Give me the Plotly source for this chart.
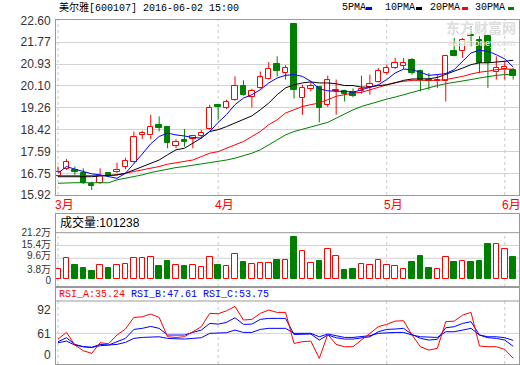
import plotly.graph_objects as go

# ---------------- data ----------------
opens  = [16.66,16.92,16.88,16.75,16.33,16.37,16.75,16.79,17.01,17.20,
          18.22,18.20,18.61,18.52,17.81,18.03,18.06,18.19,18.45,19.38,
          19.27,19.57,20.10,19.67,20.02,20.36,20.95,20.59,22.45,19.63,
          19.99,20.05,19.38,19.90,19.91,19.85,19.89,20.05,20.23,20.59,
          20.78,20.87,21.10,20.66,20.31,20.27,20.27,21.42,21.42,22.06,
          21.87,22.02,20.62,20.74,20.72]
closes = [16.79,17.20,16.79,16.37,16.27,16.66,16.65,16.88,17.23,18.13,
          18.31,18.54,18.48,17.90,17.94,17.94,18.19,18.31,19.27,19.29,
          19.48,20.10,19.76,19.91,20.42,20.74,20.65,20.78,19.95,20.02,
          20.08,19.27,20.31,19.95,19.80,19.72,19.98,20.18,20.66,20.78,
          20.97,20.97,20.59,20.31,20.27,20.34,21.26,21.26,21.87,22.00,
          20.97,20.97,20.78,20.82,20.46]
highs  = [17.01,17.30,17.01,16.94,16.43,16.94,16.78,17.16,17.35,18.35,
          18.38,18.99,18.93,18.54,18.06,18.45,18.22,18.42,19.38,19.40,
          19.57,20.46,20.31,19.99,20.65,21.01,21.23,20.89,22.45,20.14,
          20.27,20.08,20.49,20.34,19.95,20.00,20.49,20.53,20.78,20.91,
          21.17,21.17,21.17,20.72,20.59,20.53,21.29,21.93,21.93,22.38,
          22.00,22.06,21.23,21.04,20.78]
lows   = [16.62,16.88,16.69,16.34,16.11,16.34,16.62,16.75,16.91,17.16,
          18.06,18.06,18.35,17.71,17.71,17.77,17.71,18.12,18.42,18.80,
          19.21,19.53,19.72,19.27,19.99,20.34,20.46,20.34,19.61,18.99,
          19.89,18.70,19.29,18.99,19.50,19.66,19.80,19.76,20.21,20.53,
          20.74,20.74,20.53,19.89,19.95,20.02,19.50,21.23,21.17,21.61,
          20.59,20.02,20.34,20.34,20.34]

ma5  = [16.75,17.01,16.91,16.82,16.73,16.69,16.62,16.56,16.75,17.11,
        17.49,17.88,18.16,18.29,18.22,18.18,18.12,18.10,18.35,18.70,
        19.00,19.38,19.63,19.76,19.95,20.21,20.40,20.50,20.53,20.46,
        20.27,19.98,19.91,19.89,19.89,19.85,19.95,20.02,20.14,20.34,
        20.59,20.74,20.72,20.62,20.50,20.53,20.57,20.72,21.04,21.36,
        21.46,21.42,21.29,21.13,20.82]
ma10 = [16.62,16.62,16.62,16.62,16.62,16.65,16.66,16.69,16.75,16.88,
        17.01,17.14,17.26,17.46,17.65,17.71,17.90,18.10,18.35,18.42,
        18.54,18.67,18.80,18.95,19.18,19.44,19.76,20.02,20.14,20.21,
        20.25,20.21,20.21,20.18,20.11,20.11,20.05,20.05,20.11,20.14,
        20.21,20.31,20.36,20.37,20.37,20.42,20.53,20.66,20.78,20.91,
        20.98,20.98,21.00,21.04,21.08]
ma20 = [16.66,16.66,16.66,16.66,16.66,16.66,16.66,16.69,16.75,16.82,
        16.88,16.94,17.01,17.10,17.16,17.20,17.26,17.39,17.52,17.58,
        17.71,17.84,17.97,18.16,18.35,18.61,18.80,19.06,19.18,19.31,
        19.38,19.44,19.57,19.70,19.76,19.82,19.85,19.95,20.05,20.14,
        20.23,20.27,20.31,20.31,20.31,20.31,20.34,20.40,20.46,20.55,
        20.62,20.66,20.72,20.74,20.74]
ma30 = [16.37,16.39,16.39,16.39,16.39,16.39,16.39,16.50,16.56,16.62,
        16.69,16.78,16.85,16.91,16.97,17.01,17.07,17.11,17.16,17.20,
        17.26,17.33,17.42,17.52,17.65,17.84,18.03,18.22,18.35,18.44,
        18.54,18.63,18.70,18.86,19.03,19.18,19.31,19.41,19.50,19.59,
        19.67,19.76,19.85,19.95,20.04,20.11,20.18,20.23,20.27,20.34,
        20.40,20.46,20.50,20.53,20.53]

volume = [48000,96000,66000,52000,40000,64000,52000,64000,70000,96000,
          96000,101000,61000,84000,64000,61000,64000,55000,101000,66000,
          60000,114000,81000,70000,73000,73000,88000,88000,192000,128000,
          75000,84000,137000,105000,43000,48000,70000,64000,87000,64000,
          60000,46000,79000,106000,52000,46000,101000,79000,84000,79000,
          84000,161000,161000,138000,101238]

rsi_a = [55.1,62.0,48.9,43.0,40.3,51.3,50.3,59.3,65.5,77.5,
         78.2,81.0,77.5,57.5,56.8,57.5,62.7,67.9,81.7,81.3,
         84.4,88.9,74.8,75.5,81.7,85.1,82.7,82.7,50.6,52.4,
         53.0,35.1,59.9,49.6,47.2,47.2,54.1,61.0,67.9,70.3,
         73.7,74.1,59.3,47.2,43.7,45.5,73.1,73.7,79.9,82.7,
         47.9,47.2,47.2,44.4,35.24]
rsi_b = [52.4,56.5,49.6,47.2,46.5,49.6,48.9,52.4,55.8,65.1,
         66.2,68.2,66.2,59.3,59.3,59.3,62.0,64.4,71.3,70.6,
         72.4,77.2,70.3,70.6,75.5,76.5,76.5,76.5,59.9,60.3,
         60.3,54.1,59.3,56.5,55.1,55.1,56.5,57.5,62.7,65.1,
         65.5,66.2,59.9,55.8,54.1,54.8,66.8,67.9,71.3,73.1,
         59.3,56.5,55.8,54.1,47.61]
rsi_c = [51.3,53.0,48.9,47.2,46.5,48.2,48.9,49.6,51.7,55.8,
         56.8,57.5,57.5,55.8,55.1,55.1,55.8,56.5,61.0,61.0,
         61.7,64.4,62.0,62.0,65.1,66.2,66.2,66.2,61.0,61.0,
         61.0,57.5,60.3,58.6,56.8,56.8,57.5,58.6,61.0,61.7,
         62.0,62.0,59.3,57.5,56.8,56.8,62.7,62.7,64.4,66.2,
         59.3,57.5,57.5,56.5,53.75]

month_idx = [0, 19, 39, 53]
month_labels = ['3月', '4月', '5月', '6月']
price_ticks = [22.60, 21.77, 20.93, 20.10, 19.26, 18.42, 17.59, 16.75, 15.92]
vol_ticks = [212000, 154000, 96000, 38000, 0]
vol_tick_text = ['21.2万', '15.4万', '9.6万', '3.8万', '0']
rsi_ticks = [85.2, 61.0, 38.6]
rsi_tick_text = ['92', '61', '0']
title_text = '美尔雅[600107] 2016-06-02 15:00'
ma_names = ['5PMA', '10PMA', '20PMA', '30PMA']

# ---------------- style / layout constants ----------------
W, H = 520, 365
ML, MR, MT, MB = 56, 1, 20, 1
PW, PH = W - ML - MR, H - MT - MB
RED, GREEN, BLUE, BLACK = '#ff0000', '#008000', '#0000ff', '#000000'
FRAME, GRID, DASH = '#999999', '#d2d2d2', '#c8c8c8'
MONO = 'Liberation Mono, DejaVu Sans Mono, Noto Sans CJK SC'
SANS = 'Liberation Sans, Arial, Noto Sans CJK SC'
# label positions of the volume axis as drawn in the reference (slightly off the grid)
vol_label_pos = [212000, 157000, 108000, 44000, -2300]

def fx(px):
    return (px - ML) / PW

def fy(py):
    return (H - MB - py) / PH

n = len(opens)
xs = list(range(n))
up = [c >= o for o, c in zip(opens, closes)]

fig = go.Figure()

# ---- volume bars ----
ui = [i for i in xs if up[i]]
di = [i for i in xs if not up[i]]
fig.add_trace(go.Bar(x=ui, y=[volume[i] for i in ui], width=0.66,
                     marker=dict(color='white', line=dict(color=RED, width=1)),
                     xaxis='x2', yaxis='y2', hoverinfo='skip'))
fig.add_trace(go.Bar(x=di, y=[volume[i] for i in di], width=0.66,
                     marker=dict(color=GREEN, line=dict(color=GREEN, width=1)),
                     xaxis='x2', yaxis='y2', hoverinfo='skip'))

# ---- candle bodies ----
fig.add_trace(go.Bar(x=ui, y=[closes[i] - opens[i] for i in ui],
                     base=[opens[i] for i in ui], width=0.64,
                     marker=dict(color='white', line=dict(color=RED, width=1)),
                     xaxis='x', yaxis='y', hoverinfo='skip'))
fig.add_trace(go.Bar(x=di, y=[opens[i] - closes[i] for i in di],
                     base=[closes[i] for i in di], width=0.64,
                     marker=dict(color=GREEN, line=dict(color=GREEN, width=1)),
                     xaxis='x', yaxis='y', hoverinfo='skip'))

# ---- wicks ----
wx_u, wy_u, wx_d, wy_d = [], [], [], []
for i in ui:
    wx_u += [i, i, None, i, i, None]
    wy_u += [highs[i], closes[i], None, opens[i], lows[i], None]
for i in di:
    wx_d += [i, i, None]
    wy_d += [highs[i], lows[i], None]
fig.add_trace(go.Scatter(x=wx_u, y=wy_u, mode='lines', line=dict(color=RED, width=1),
                         xaxis='x', yaxis='y', hoverinfo='skip'))
fig.add_trace(go.Scatter(x=wx_d, y=wy_d, mode='lines', line=dict(color=GREEN, width=1),
                         xaxis='x', yaxis='y', hoverinfo='skip'))

# ---- moving averages ----
for arr, col in [(ma30, GREEN), (ma20, RED), (ma10, BLACK), (ma5, BLUE)]:
    fig.add_trace(go.Scatter(x=xs, y=arr, mode='lines', line=dict(color=col, width=1),
                             xaxis='x', yaxis='y', hoverinfo='skip'))

# ---- RSI ----
for arr, col in [(rsi_c, BLUE), (rsi_b, BLUE), (rsi_a, RED)]:
    fig.add_trace(go.Scatter(x=xs, y=arr, mode='lines', line=dict(color=col, width=1),
                             xaxis='x3', yaxis='y3', hoverinfo='skip'))

# ---------------- axes ----------------
xr = [-0.237, 54.69]
common_x = dict(range=xr, autorange=False, automargin=False, showticklabels=False,
                showgrid=False, zeroline=False,
                showline=True, mirror=True, linecolor=FRAME, linewidth=1, ticks='')
common_y = dict(automargin=False, zeroline=False, showline=True, mirror=True,
                linecolor=FRAME, linewidth=1, autorange=False,
                ticks='outside', ticklen=2, tickcolor='rgba(0,0,0,0)')
vol_range = [-34000, 296600]
rsi_range = [29.3, 109.0]
rsi_sep = 94.5

fig.update_layout(
    template='none',
    width=W, height=H, margin=dict(l=ML, r=MR, t=MT, b=MB, pad=0),
    paper_bgcolor='white', plot_bgcolor='white', showlegend=False,
    barmode='overlay', bargap=0,
    xaxis=dict(common_x, anchor='y', domain=[0, 1]),
    xaxis2=dict(common_x, anchor='y2', domain=[0, 1], matches='x'),
    xaxis3=dict(common_x, anchor='y3', domain=[0, 1], matches='x'),
    yaxis=dict(common_y, domain=[fy(195), fy(20)], range=[15.92, 22.62],
               tickvals=price_ticks, ticktext=[f'{v:.2f}' for v in price_ticks],
               showgrid=True, gridcolor=GRID, gridwidth=1,
               tickfont=dict(family=SANS, size=12, color='#333333')),
    yaxis2=dict(common_y, domain=[fy(287), fy(214)], range=vol_range,
                tickvals=vol_label_pos, ticktext=vol_tick_text, showgrid=False,
                tickfont=dict(family=SANS, size=10, color='#333333')),
    yaxis3=dict(common_y, domain=[0, fy(287)], range=rsi_range,
                tickvals=rsi_ticks, ticktext=rsi_tick_text, showgrid=False,
                tickfont=dict(family=SANS, size=12, color='#333333')),
)

shapes = []
# volume grid + header separator
for v in vol_ticks[1:-1]:
    shapes.append(dict(type='line', xref='x2 domain', yref='y2', x0=0, x1=1, y0=v, y1=v,
                       line=dict(color=GRID, width=1), layer='below'))
shapes.append(dict(type='line', xref='x2 domain', yref='y2', x0=0, x1=1,
                   y0=vol_ticks[0], y1=vol_ticks[0], line=dict(color=FRAME, width=1)))
# RSI grid + header separator
shapes.append(dict(type='line', xref='x3 domain', yref='y3', x0=0, x1=1,
                   y0=rsi_ticks[1], y1=rsi_ticks[1], line=dict(color=GRID, width=1), layer='below'))
shapes.append(dict(type='line', xref='x3 domain', yref='y3', x0=0, x1=1,
                   y0=rsi_sep, y1=rsi_sep, line=dict(color=FRAME, width=1)))
# month dashed lines
for m in month_idx:
    shapes.append(dict(type='line', xref='x', yref='y domain', x0=m, x1=m, y0=0, y1=1,
                       line=dict(color=DASH, width=1, dash='3px,3px'), layer='below'))
    shapes.append(dict(type='line', xref='x2', yref='y2', x0=m, x1=m,
                       y0=vol_range[0], y1=vol_ticks[0],
                       line=dict(color=DASH, width=1, dash='3px,3px'), layer='below'))
    shapes.append(dict(type='line', xref='x3', yref='y3', x0=m, x1=m,
                       y0=rsi_range[0], y1=rsi_sep,
                       line=dict(color=DASH, width=1, dash='3px,3px'), layer='below'))
# legend colour marks
for px0, col in [(366, BLUE), (416, BLACK), (462, RED), (508, GREEN)]:
    shapes.append(dict(type='rect', xref='paper', yref='paper',
                       x0=fx(px0), x1=fx(px0 + 6), y0=fy(10), y1=fy(7),
                       fillcolor=col, line=dict(width=0)))

ann = []
ann.append(dict(text=title_text, xref='paper', yref='paper', x=fx(57), y=fy(8),
                xanchor='left', yanchor='middle', showarrow=False,
                font=dict(family=MONO, size=10, color='#000000')))
for name, px0 in zip(ma_names, [340, 383, 428, 473]):
    ann.append(dict(text=name, xref='paper', yref='paper', x=fx(px0), y=fy(8),
                    xanchor='left', yanchor='middle', showarrow=False,
                    font=dict(family=MONO, size=10, color='#000000')))
for m, lab in zip(month_idx, month_labels):
    ann.append(dict(text=lab, xref='x', yref='paper', x=m, y=fy(205),
                    xanchor='left', yanchor='middle', xshift=-5, showarrow=False,
                    font=dict(family=SANS, size=12, color=RED)))
ann.append(dict(text=f'成交量:{volume[-1]}', xref='paper', yref='paper', x=fx(58), y=fy(223),
                xanchor='left', yanchor='middle', showarrow=False,
                font=dict(family=SANS, size=12, color='#000000')))
rsi_txt = (f"<span style='color:{RED}'>RSI_A:{rsi_a[-1]:.2f}</span> "
           f"<span style='color:{BLUE}'>RSI_B:{rsi_b[-1]:.2f}</span> "
           f"<span style='color:{BLUE}'>RSI_C:{rsi_c[-1]:.2f}</span>")
ann.append(dict(text=rsi_txt, xref='paper', yref='paper', x=fx(57), y=fy(294),
                xanchor='left', yanchor='middle', showarrow=False,
                font=dict(family=MONO, size=10, color=RED)))
# watermark
ann.append(dict(text='<b>东方财富网</b>', xref='paper', yref='paper', x=fx(518), y=fy(27),
                xanchor='right', yanchor='middle', showarrow=False,
                font=dict(family='Noto Sans CJK SC', size=14, color='#dedede')))
ann.append(dict(text='<b>eastmoney.com</b>', xref='paper', yref='paper', x=fx(517), y=fy(43),
                xanchor='right', yanchor='middle', showarrow=False,
                font=dict(family=SANS, size=9, color='#e2e2e2')))

fig.update_layout(shapes=shapes, annotations=ann)
fig.write_html('out.html', config={'displayModeBar': False},
               post_script="document.body.style.margin='0px';document.body.style.padding='0px';")
